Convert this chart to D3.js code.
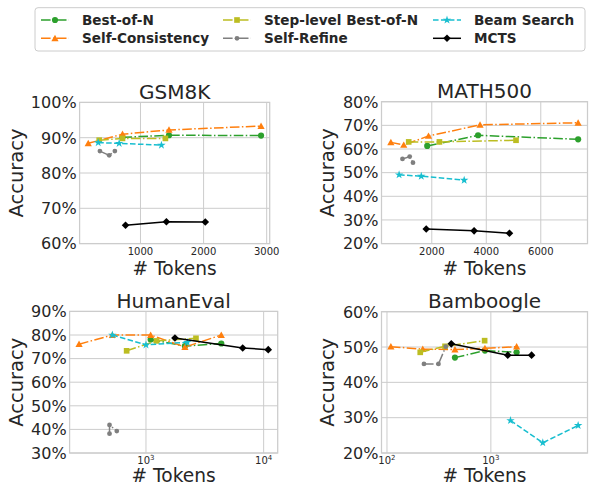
<!DOCTYPE html>
<html><head><meta charset="utf-8">
<script src="https://cdn.jsdelivr.net/npm/d3@7"></script>
<style>
body{margin:0;background:#fff}
svg{display:block}
text{font-family:"DejaVu Sans",sans-serif;fill:#262626}
</style>
</head><body>
<svg id="chart" width="589" height="487"></svg>
<script>
// ---------- data ----------
const methods = ["Best-of-N","Self-Consistency","Step-level Best-of-N","Self-Refine","Beam Search","MCTS"];
const colors  = ["#2ca02c","#ff7f0e","#bcbd22","#7f7f7f","#17becf","#000000"];
const markers = ["circle","triangle","square","smallcircle","star","diamond"];
const styles  = ["dashdot","dashdot","dashdot","dashdot","dashed","solid"];
const datasets = ["GSM8K","MATH500","HumanEval","Bamboogle"];
const xTypes = ["linear","linear","log","log"];
const yLimits = [[0.6,1.0],[0.2,0.8],[0.3,0.9],[0.2,0.6]];
const xTickValues = [[1000,2000,3000],[2000,4000,6000],[1000,10000],[100,1000]];

const gsm8kTokens = [[715,1452,2911],[172,715,1452,2911],[346,715,1395],[357,504,594],[330,662,1332],[763,1411,2027]];
const gsm8kAcc    = [[0.901,0.907,0.906],[0.884,0.910,0.922,0.933],[0.893,0.898,0.898],[0.862,0.850,0.862],[0.886,0.884,0.879],[0.652,0.662,0.661]];

const math500Tokens = [[1833,3698,7371],[498,971,1880,3771,7371],[1153,2280,5091],[924,1189,1310],[800,1614,3189],[1796,3553,4851]];
const math500Acc    = [[0.613,0.658,0.641],[0.628,0.617,0.655,0.702,0.711],[0.630,0.630,0.637],[0.558,0.568,0.542],[0.491,0.485,0.468],[0.262,0.254,0.244]];

const humanevalTokens = [[1096,2143,4365],[270,518,1096,2143,4365],[685,1233,2660],[490,490,565],[518,1000,2245],[1763,6637,10940]];
const humanevalAcc    = [[0.781,0.753,0.764],[0.761,0.800,0.800,0.749,0.800],[0.733,0.775,0.786],[0.382,0.419,0.393],[0.800,0.758,0.769],[0.787,0.745,0.738]];

const bamboogleTokens = [[451,877,1770],[109,221,451,877,1770],[209,362,871],[227,313,368],[1545,3162,6920],[416,1455,2466]];
const bamboogleAcc    = [[0.470,0.490,0.485],[0.501,0.494,0.493,0.496,0.501],[0.485,0.502,0.518],[0.452,0.452,0.501],[0.292,0.229,0.278],[0.509,0.477,0.477]];

const allTokens = [gsm8kTokens, math500Tokens, humanevalTokens, bamboogleTokens];
const allAcc = [gsm8kAcc, math500Acc, humanevalAcc, bamboogleAcc];

// ---------- layout ----------
const layout = [
  {l:79.6, r:269.7, t:102.4, b:243.6, ylab:22.5},
  {l:381.5, r:587.5, t:101.7, b:243.6, ylab:334},
  {l:69.6, r:277.7, t:311.4, b:453.0, ylab:22.5},
  {l:381.5, r:587.5, t:311.7, b:453.0, ylab:334}
];
const dashMap = {dashdot:"9.6,2.4,1.5,2.4", dashed:"5.55,2.4", solid:null};
const gridColor = "#cccccc";

const svg = d3.select("#chart");

function markerPath(type){
  switch(type){
    case "circle": return d3.symbol(d3.symbolCircle, 30)();
    case "smallcircle": return d3.symbol(d3.symbolCircle, 18)();
    case "triangle": {
      const s=3.6; return `M0,${-s}L${s},${s*0.8}L${-s},${s*0.8}Z`; }
    case "square": return d3.symbol(d3.symbolSquare, 32)();
    case "star": return d3.symbol(d3.symbolStar, 22)();
    case "diamond": {
      const s=3.8; return `M0,${-s}L${s},0L0,${s}L${-s},0Z`; }
  }
}

datasets.forEach((name, pi) => {
  const L = layout[pi];
  const tok = allTokens[pi], acc = allAcc[pi];
  const flat = tok.flat();
  let x;
  if (xTypes[pi] === "log") {
    const lo = Math.log10(d3.min(flat)), hi = Math.log10(d3.max(flat));
    const pad = (hi - lo) * 0.05;
    x = d3.scaleLog().domain([Math.pow(10, lo - pad), Math.pow(10, hi + pad)]).range([L.l, L.r]);
  } else {
    const lo = d3.min(flat), hi = d3.max(flat);
    const pad = (hi - lo) * 0.05;
    x = d3.scaleLinear().domain([lo - pad, hi + pad]).range([L.l, L.r]);
  }
  const y = d3.scaleLinear().domain(yLimits[pi]).range([L.b, L.t]);
  const yTicks = d3.range(0, 7).map(i => +(yLimits[pi][0] + i * 0.1).toFixed(2)).filter(v => v <= yLimits[pi][1] + 1e-9);

  const g = svg.append("g");
  // grid
  g.selectAll(".gy").data(yTicks).join("line")
    .attr("x1", L.l).attr("x2", L.r).attr("y1", d => y(d)).attr("y2", d => y(d))
    .attr("stroke", gridColor).attr("stroke-width", 1);
  g.selectAll(".gx").data(xTickValues[pi]).join("line")
    .attr("x1", d => x(d)).attr("x2", d => x(d)).attr("y1", L.t).attr("y2", L.b)
    .attr("stroke", gridColor).attr("stroke-width", 1);

  // y tick labels
  g.selectAll(".yt").data(yTicks).join("text")
    .attr("x", L.l - 3).attr("y", d => y(d) + 5.8)
    .attr("text-anchor", "end").attr("font-size", 16)
    .text(d => d3.format(".0%")(d));

  // x tick labels
  if (xTypes[pi] === "log") {
    xTickValues[pi].forEach(v => {
      const t = g.append("text").attr("x", x(v)).attr("y", L.b + 10.6)
        .attr("text-anchor", "middle").attr("font-size", 10);
      t.append("tspan").text("10");
      t.append("tspan").attr("font-size", 7).attr("dy", -4).text(String(Math.round(Math.log10(v))));
    });
  } else {
    g.selectAll(".xt").data(xTickValues[pi]).join("text")
      .attr("x", d => x(d)).attr("y", L.b + 11)
      .attr("text-anchor", "middle").attr("font-size", 10)
      .text(d => d);
  }

  // series
  const line = d3.line().x(d => x(d[0])).y(d => y(d[1]));
  methods.forEach((m, si) => {
    const pts = tok[si].map((t, i) => [t, acc[si][i]]);
    const p = g.append("path").attr("d", line(pts))
      .attr("fill", "none").attr("stroke", colors[si]).attr("stroke-width", 1.5);
    if (dashMap[styles[si]]) p.attr("stroke-dasharray", dashMap[styles[si]]);
    g.selectAll(null).data(pts).join("path")
      .attr("d", markerPath(markers[si]))
      .attr("transform", d => `translate(${x(d[0])},${y(d[1])})`)
      .attr("fill", colors[si]);
  });

  // frame
  g.append("rect").attr("x", L.l).attr("y", L.t).attr("width", L.r - L.l).attr("height", L.b - L.t)
    .attr("fill", "none").attr("stroke", gridColor).attr("stroke-width", 1.25);

  // title & labels
  g.append("text").attr("x", (L.l + L.r) / 2).attr("y", L.t - 3.5)
    .attr("text-anchor", "middle").attr("font-size", 20).text(name);
  g.append("text").attr("x", (L.l + L.r) / 2).attr("y", Math.min(L.b + 31, 482.4))
    .attr("text-anchor", "middle").attr("font-size", 18.6).text("# Tokens");
  g.append("text").attr("transform", `translate(${L.ylab},${(L.t + L.b) / 2}) rotate(-90)`)
    .attr("text-anchor", "middle").attr("font-size", 19.5).text("Accuracy");
});

// ---------- legend ----------
const lg = svg.append("g");
lg.append("rect").attr("x", 35).attr("y", 7.7).attr("width", 550).attr("height", 43.3)
  .attr("rx", 3).attr("fill", "#fff").attr("fill-opacity", 0.8)
  .attr("stroke", gridColor).attr("stroke-width", 1);
const colX = [41, 223, 433];
const rowY = [20, 38.3];
methods.forEach((m, i) => {
  const c = Math.floor(i / 2), r = i % 2;
  const x0 = colX[c], yy = rowY[r];
  const ln = lg.append("line").attr("x1", x0).attr("x2", x0 + 28).attr("y1", yy).attr("y2", yy)
    .attr("stroke", colors[i]).attr("stroke-width", 1.5);
  if (dashMap[styles[i]]) ln.attr("stroke-dasharray", dashMap[styles[i]]);
  lg.append("path").attr("d", markerPath(markers[i]))
    .attr("transform", `translate(${x0 + 14},${yy})`).attr("fill", colors[i]);
  lg.append("text").attr("x", x0 + 41).attr("y", yy + 5)
    .attr("font-size", 13.6).attr("font-weight", "bold").text(m);
});
</script>
</body></html>
